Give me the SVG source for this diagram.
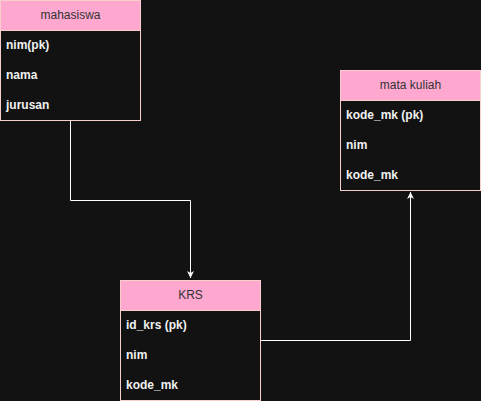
<svg xmlns="http://www.w3.org/2000/svg" width="481" height="401" viewBox="0 0 481 401">
<style>
.hdr{fill:#FFA8CF;stroke:#F8CECC;stroke-width:1}
.body{fill:#121212;stroke:#F8CECC;stroke-width:1}
.ht{font-family:"Liberation Sans",Arial,sans-serif;font-size:12px;fill:#333333;text-anchor:middle}
.bt{font-family:"Liberation Sans",Arial,sans-serif;font-size:12px;font-weight:bold;fill:#F0F0F0}
.conn{fill:none;stroke:#FFFFFF;stroke-width:1}
</style>
<defs>
<marker id="arr" markerWidth="8" markerHeight="8" refX="7" refY="4" orient="auto" markerUnits="userSpaceOnUse">
<path d="M0,0.5 L7,4 L0,7.5 L2,4 Z" fill="#FFFFFF"/>
</marker>
</defs>
<rect width="481" height="401" fill="#121212"/>
<g id="connectors">
<path class="conn" d="M70.5,120 V200.5 H190.5 V278" marker-end="url(#arr)"/>
<path class="conn" d="M260,340.5 H410.5 V192" marker-end="url(#arr)"/>
</g>
<g id="mahasiswa">
<rect class="body" x="0.5" y="0.5" width="140" height="120"/>
<rect class="hdr" x="0.5" y="0.5" width="140" height="30"/>
<text class="ht" x="70.5" y="19">mahasiswa</text>
<text class="bt" x="6" y="48.5">nim(pk)</text>
<text class="bt" x="6" y="78.5">nama</text>
<text class="bt" x="6" y="108.5">jurusan</text>
</g>
<g id="mata_kuliah">
<rect class="body" x="340.5" y="70.5" width="140" height="120"/>
<rect class="hdr" x="340.5" y="70.5" width="140" height="30"/>
<text class="ht" x="410.5" y="89">mata kuliah</text>
<text class="bt" x="346" y="118.5">kode_mk (pk)</text>
<text class="bt" x="346" y="148.5">nim</text>
<text class="bt" x="346" y="178.5">kode_mk</text>
</g>
<g id="krs">
<rect class="body" x="120.5" y="280.5" width="140" height="120"/>
<rect class="hdr" x="120.5" y="280.5" width="140" height="30"/>
<text class="ht" x="190.5" y="299">KRS</text>
<text class="bt" x="126" y="328.5">id_krs (pk)</text>
<text class="bt" x="126" y="358.5">nim</text>
<text class="bt" x="126" y="388.5">kode_mk</text>
</g>
</svg>
